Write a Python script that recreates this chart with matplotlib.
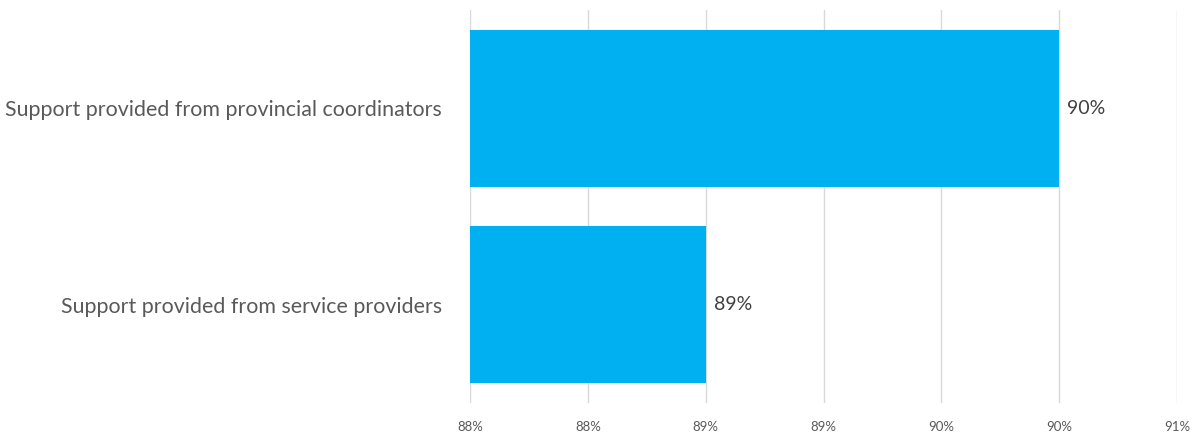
import matplotlib
matplotlib.use("Agg")
import matplotlib.pyplot as plt

categories = ["Support provided from provincial coordinators", "Support provided from service providers"]
values = [90.5, 89.0]
value_labels = ["90%", "89%"]
tick_values = [88, 88.5, 89, 89.5, 90, 90.5, 91]
tick_labels = ["88%", "88%", "89%", "89%", "90%", "90%", "91%"]

plt.rcParams['font.family'] = ['Lato', 'DejaVu Sans']
fig = plt.figure(figsize=(11.97, 4.32), dpi=100)
ax = fig.add_axes([470/1197, 1-403/432, 707/1197, 393/432])

y = [0, 1]
ax.barh(y, [v - 88 for v in values], left=88, height=0.8, color="#00B0F0", zorder=3)
ax.set_ylim(1.5, -0.5)
ax.set_xlim(88, 91)
ax.set_xticks(tick_values)
ax.set_xticklabels(tick_labels, fontsize=9.5, color="#595959")
ax.set_yticks(y)
ax.set_yticklabels(categories, fontsize=15.4, color="#595959")
ax.tick_params(axis='y', length=0, pad=20)
ax.tick_params(axis='x', length=0, pad=13)
ax.grid(axis='x', color="#D9D9D9", linewidth=1, zorder=0)
for s in ax.spines.values():
    s.set_visible(False)
for yi, v, lab in zip(y, values, value_labels):
    ax.text(v + 0.035, yi, lab, va='center', ha='left', fontsize=14, color="#404040")

fig.savefig("out.png", dpi=100)
